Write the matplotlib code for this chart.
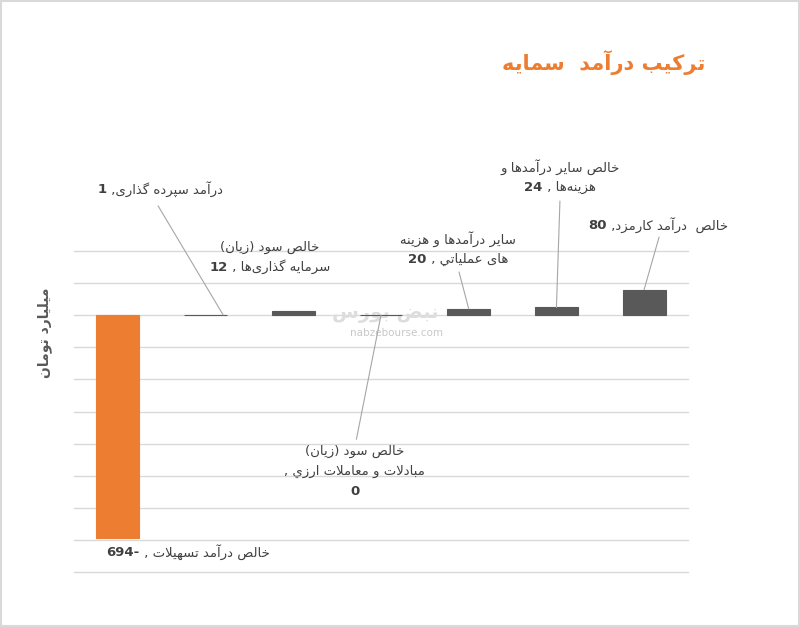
import re
import matplotlib
matplotlib.use('Agg')
import matplotlib.pyplot as plt
from matplotlib.patches import Rectangle
from matplotlib.transforms import offset_copy

plt.rcParams['font.family'] = ['DejaVu Sans']

# data
categories = [
    'خالص درآمد تسهیلات',
    'درآمد سپرده گذاری',
    'خالص سود (زیان)\nسرمایه گذاری‌ها',
    'خالص سود (زیان)\nمبادلات و معاملات ارزي',
    'سایر درآمدها و هزینه\nهای عملیاتي',
    'خالص سایر درآمدها و\nهزینه‌ها',
    'خالص  درآمد کارمزد',
]
values = [-694, 1, 12, 0, 20, 24, 80]
label_text = [
    'خالص درآمد تسهیلات , -694',
    'درآمد سپرده گذاری, 1',
    'خالص سود (زیان)\nسرمایه گذاری‌ها , 12',
    'خالص سود (زیان)\nمبادلات و معاملات ارزي ,\n0',
    'سایر درآمدها و هزینه\nهای عملیاتي , 20',
    'خالص سایر درآمدها و\nهزینه‌ها , 24',
    'خالص  درآمد کارمزد, 80',
]
title = 'ترکیب درآمد  سمایه'
ylabel = 'میلیارد تومان'

# label placement (data units): label centre, and leader start (None = no leader)
label_xy = [(0.80, -738), (0.48, 392), (1.73, 181), (2.70, -486),
            (3.88, 206), (5.04, 430), (6.16, 280)]
leader_from = [None, (0.46, 340), None, (2.72, -386), (3.89, 134), (5.04, 355), (6.17, 243)]
leader_to_dx = [0, 0.2, 0, 0, 0, 0, 0]

# ---- minimal arabic/persian shaping (matplotlib has no bidi/shaping) ----
FORMS = {
    'ا': (0xFE8D, 0xFE8E, None, None), 'آ': (0xFE81, 0xFE82, None, None),
    'د': (0xFEA9, 0xFEAA, None, None), 'ذ': (0xFEAB, 0xFEAC, None, None),
    'ر': (0xFEAD, 0xFEAE, None, None), 'ز': (0xFEAF, 0xFEB0, None, None),
    'ژ': (0xFB8A, 0xFB8B, None, None), 'و': (0xFEED, 0xFEEE, None, None),
    'ب': (0xFE8F, 0xFE90, 0xFE91, 0xFE92), 'پ': (0xFB56, 0xFB57, 0xFB58, 0xFB59),
    'ت': (0xFE95, 0xFE96, 0xFE97, 0xFE98), 'ث': (0xFE99, 0xFE9A, 0xFE9B, 0xFE9C),
    'ج': (0xFE9D, 0xFE9E, 0xFE9F, 0xFEA0), 'چ': (0xFB7A, 0xFB7B, 0xFB7C, 0xFB7D),
    'ح': (0xFEA1, 0xFEA2, 0xFEA3, 0xFEA4), 'خ': (0xFEA5, 0xFEA6, 0xFEA7, 0xFEA8),
    'س': (0xFEB1, 0xFEB2, 0xFEB3, 0xFEB4), 'ش': (0xFEB5, 0xFEB6, 0xFEB7, 0xFEB8),
    'ص': (0xFEB9, 0xFEBA, 0xFEBB, 0xFEBC), 'ض': (0xFEBD, 0xFEBE, 0xFEBF, 0xFEC0),
    'ط': (0xFEC1, 0xFEC2, 0xFEC3, 0xFEC4), 'ظ': (0xFEC5, 0xFEC6, 0xFEC7, 0xFEC8),
    'ع': (0xFEC9, 0xFECA, 0xFECB, 0xFECC), 'غ': (0xFECD, 0xFECE, 0xFECF, 0xFED0),
    'ف': (0xFED1, 0xFED2, 0xFED3, 0xFED4), 'ق': (0xFED5, 0xFED6, 0xFED7, 0xFED8),
    'ک': (0xFB8E, 0xFB8F, 0xFB90, 0xFB91), 'گ': (0xFB92, 0xFB93, 0xFB94, 0xFB95),
    'ل': (0xFEDD, 0xFEDE, 0xFEDF, 0xFEE0), 'م': (0xFEE1, 0xFEE2, 0xFEE3, 0xFEE4),
    'ن': (0xFEE5, 0xFEE6, 0xFEE7, 0xFEE8), 'ه': (0xFEE9, 0xFEEA, 0xFEEB, 0xFEEC),
    'ی': (0xFBFC, 0xFBFD, 0xFBFE, 0xFBFF), 'ي': (0xFEF1, 0xFEF2, 0xFEF3, 0xFEF4),
}


def shape(s):
    out = []
    i = 0
    while i < len(s):
        c = s[i]
        if c == '\u200c':
            i += 1
            continue
        if c not in FORMS:
            out.append(c)
            i += 1
            continue
        prev = s[i - 1] if i > 0 else ''
        jp = prev in FORMS and FORMS[prev][2] is not None
        if c == 'ل' and i + 1 < len(s) and s[i + 1] in 'اآ':
            lig = (0xFEFB, 0xFEFC) if s[i + 1] == 'ا' else (0xFEF5, 0xFEF6)
            out.append(chr(lig[1] if jp else lig[0]))
            i += 2
            continue
        nxt = s[i + 1] if i + 1 < len(s) else ''
        iso, fin, ini, med = FORMS[c]
        jn = ini is not None and nxt in FORMS
        if jp and jn:
            code = med
        elif jp:
            code = fin
        elif jn:
            code = ini
        else:
            code = iso
        out.append(chr(code))
        i += 1
    return ''.join(out)


def rtl(s):
    lines = []
    for line in s.split('\n'):
        v = shape(line)[::-1].translate(str.maketrans('()', ')('))
        v = re.sub(r'[0-9a-zA-Z.]+', lambda m: m.group(0)[::-1], v)
        lines.append(v)
    return '\n'.join(lines)


fig = plt.figure(figsize=(8, 6.27), dpi=100)
ax = fig.add_axes([0.0925, 0.0877, 0.7675, 0.512])
renderer = fig.canvas.get_renderer()

x = list(range(len(values)))
colors = ['#ED7D31'] + ['#595959'] * (len(values) - 1)
ax.bar(x, values, width=0.49, color=colors, edgecolor=colors, linewidth=0.8, zorder=3)

ax.set_xlim(-0.5, len(values) - 0.5)
ax.set_ylim(-800, 200)
ax.set_yticks(range(-800, 201, 100))
ax.yaxis.grid(True, color='#D9D9D9', linewidth=1, zorder=0)
ax.set_axisbelow(True)
ax.tick_params(left=False, bottom=False, labelleft=False, labelbottom=False)
for sp in ax.spines.values():
    sp.set_visible(False)
for gl in ax.get_ygridlines():
    gl.set_clip_on(False)

# watermark
ax.text(3.05, 5, rtl('نبض بورس'), fontsize=14, color='#DDDDDD', ha='center', va='center', zorder=1,
        fontweight='bold')
ax.text(3.18, -55, 'nabzebourse.com', fontsize=7.5, color='#C8C8C8', ha='center', va='center', zorder=1)


def width_px(s, **kw):
    t = fig.text(0, 0, s, **kw)
    w = t.get_window_extent(renderer).width
    t.remove()
    return w


LINE_H = 20
reg = dict(fontsize=9.5, color='#404040')
bold = dict(fontsize=9.5, color='#404040', fontweight='bold')


def draw_label(lx, ly, txt):
    lines = rtl(txt).split('\n')
    n = len(lines)
    for k, line in enumerate(lines):
        dy = ((n - 1) / 2 - k) * LINE_H
        m = re.match(r'^-?\d+-?', line)
        if m is None:
            tr = offset_copy(ax.transData, fig=fig, x=0, y=dy, units='dots')
            ax.text(lx, ly, line, transform=tr, ha='center', va='center', clip_on=False, zorder=5, **reg)
            continue
        num, rest = m.group(0), line[m.end():]
        wn = width_px(num, **bold)
        wr = width_px(rest, **reg) if rest else 0
        x0 = -(wn + wr) / 2
        tr = offset_copy(ax.transData, fig=fig, x=x0, y=dy, units='dots')
        ax.text(lx, ly, num, transform=tr, ha='left', va='center', clip_on=False, zorder=5, **bold)
        if rest:
            tr = offset_copy(ax.transData, fig=fig, x=x0 + wn, y=dy, units='dots')
            ax.text(lx, ly, rest, transform=tr, ha='left', va='center', clip_on=False, zorder=5, **reg)


for i, (txt, (lx, ly)) in enumerate(zip(label_text, label_xy)):
    draw_label(lx, ly, txt)
    if leader_from[i] is not None:
        fx, fy = leader_from[i]
        ax.plot([fx, i + leader_to_dx[i]], [fy, values[i]], color='#A6A6A6', linewidth=0.8,
                clip_on=False, zorder=4)

fig.text(0.0563, 0.47, rtl(ylabel), rotation=90, ha='center', va='center', fontsize=10,
         fontweight='bold', color='#595959')
fig.text(0.881, 0.901, rtl(title), ha='right', va='center', fontsize=15, fontweight='bold',
         color='#ED7D31')

fig.patches.append(Rectangle((0.001, 0.001), 0.998, 0.997, transform=fig.transFigure,
                             fill=False, edgecolor='#D9D9D9', linewidth=1.5))

fig.savefig('out.png', dpi=100)
